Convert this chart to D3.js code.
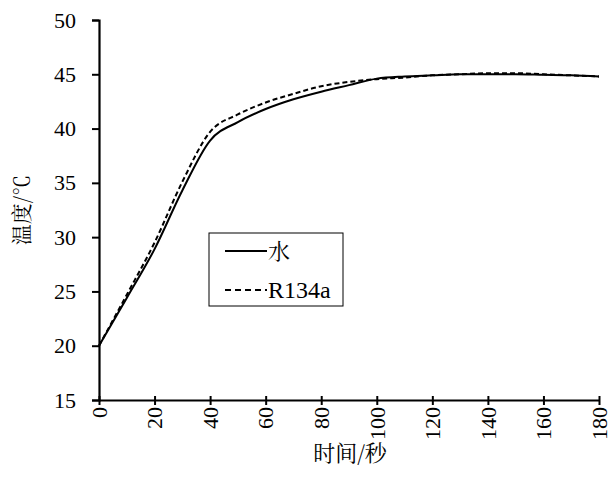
<!DOCTYPE html>
<html>
<head>
<meta charset="utf-8">
<script src="https://cdn.jsdelivr.net/npm/d3@7"></script>
<style>
  body { margin: 0; background: #fff; }
  svg { display: block; }
</style>
</head>
<body>
<script>
// time in seconds
const times = [0, 10, 20, 30, 40, 50, 60, 70, 80, 90, 100, 110, 120, 130, 140, 150, 160, 170, 180];
// water temperature
const water = [20, 24.4, 28.9, 34.3, 38.9, 40.6, 41.8, 42.7, 43.4, 44.0, 44.6, 44.8, 44.9, 45.0, 45.0, 45.0, 44.95, 44.9, 44.8];
// R134a temperature
const r134a = [20, 24.7, 29.5, 35.1, 39.7, 41.3, 42.4, 43.2, 43.9, 44.3, 44.55, 44.7, 44.9, 45.0, 45.1, 45.1, 45.0, 44.9, 44.8];
const xTicks = [0, 20, 40, 60, 80, 100, 120, 140, 160, 180];
const yTicks = [15, 20, 25, 30, 35, 40, 45, 50];
const seriesNames = ["水", "R134a"];

const width = 611, height = 484;
const serif = '"Liberation Serif"';
const cjk = '"Noto Serif CJK SC"';

const x = d3.scaleLinear().domain([0, 180]).range([99, 599]);
const y = d3.scaleLinear().domain([15, 50]).range([400, 20]);

const svg = d3.select("body").append("svg")
  .attr("width", width)
  .attr("height", height);

// Y axis
const yAxis = svg.append("g")
  .attr("transform", `translate(${x(0)},0)`)
  .call(d3.axisLeft(y).tickValues(yTicks).tickSize(7).tickPadding(16).tickFormat(d3.format("d")));
yAxis.select(".domain").attr("stroke", "#000").attr("stroke-width", 2.2);
yAxis.selectAll(".tick line").attr("stroke", "#000").attr("stroke-width", 2);
yAxis.selectAll(".tick text")
  .style("font-family", serif).style("font-size", "22px").attr("fill", "#000");

// X axis, ticks cross the axis line
const xAxis = svg.append("g")
  .attr("transform", `translate(0,${y(15)})`)
  .call(d3.axisBottom(x).tickValues(xTicks).tickSize(5).tickPadding(0).tickSizeOuter(0));
xAxis.select(".domain").attr("stroke", "#000").attr("stroke-width", 2.2);
xAxis.selectAll(".tick line").attr("y1", -4).attr("stroke", "#000").attr("stroke-width", 2);
xAxis.selectAll(".tick text")
  .style("font-family", serif).style("font-size", "22px").attr("fill", "#000")
  .attr("transform", "rotate(-90)")
  .attr("x", -7).attr("y", 0).attr("dy", "0.33em")
  .attr("text-anchor", "end");

// axis titles
svg.append("text")
  .attr("x", 350).attr("y", 461)
  .attr("text-anchor", "middle")
  .style("font-family", cjk).style("font-size", "22px")
  .text("时间/秒");

svg.append("text")
  .attr("transform", "translate(29,210) rotate(-90)")
  .attr("text-anchor", "middle")
  .style("font-family", cjk).style("font-size", "21px")
  .text("温度/℃");

// curves
const line = d3.line()
  .x((d, i) => x(times[i]))
  .y(d => y(d))
  .curve(d3.curveMonotoneX);

svg.append("path")
  .datum(r134a)
  .attr("fill", "none").attr("stroke", "#000").attr("stroke-width", 2)
  .attr("stroke-dasharray", "5,3")
  .attr("d", line);

svg.append("path")
  .datum(water)
  .attr("fill", "none").attr("stroke", "#000").attr("stroke-width", 2)
  .attr("d", line);

// legend
const legend = svg.append("g").attr("transform", "translate(209,233)");
legend.append("rect")
  .attr("width", 134).attr("height", 73)
  .attr("fill", "#fff").attr("stroke", "#000").attr("stroke-width", 1);
seriesNames.forEach((name, i) => {
  const ly = 18 + i * 39;
  legend.append("line")
    .attr("x1", 16).attr("x2", 58).attr("y1", ly).attr("y2", ly)
    .attr("stroke", "#000").attr("stroke-width", 2)
    .attr("stroke-dasharray", i === 1 ? "6,4" : null);
  legend.append("text")
    .attr("x", 59).attr("y", ly).attr("dy", "0.35em")
    .style("font-family", i === 0 ? cjk : serif)
    .style("font-size", i === 0 ? "22px" : "24px")
    .text(name);
});
</script>
</body>
</html>
